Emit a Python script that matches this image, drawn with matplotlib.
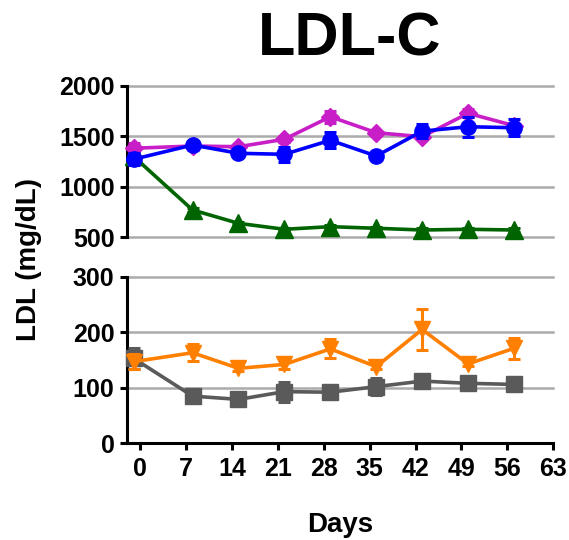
import numpy as np
import matplotlib
matplotlib.use("Agg")
import matplotlib.pyplot as plt

plt.rcParams['font.family'] = ['Liberation Sans', 'DejaVu Sans']
plt.rcParams['font.weight'] = 'bold'

days = [-1, 8, 15, 22, 29, 36, 43, 50, 57]
xticks = [0, 7, 14, 21, 28, 35, 42, 49, 56, 63]

# upper panel groups (high LDL)
magenta = [1381, 1403, 1396, 1470, 1693, 1535, 1495, 1727, 1605]
magenta_err = [50, 35, 20, 25, 60, 20, 25, 40, 20]
blue = [1272, 1413, 1331, 1321, 1460, 1304, 1550, 1594, 1584]
blue_err = [60, 30, 30, 75, 80, 25, 70, 100, 85]
green = [1300, 770, 638, 579, 605, 589, 572, 579, 572]
green_err = [20, 20, 15, 15, 15, 15, 15, 15, 15]

# lower panel groups (low LDL)
orange = [147, 163, 135, 142, 170, 138, 205, 143, 171]
orange_err = [14, 15, 4, 8, 17, 4, 37, 4, 19]
gray = [153, 85, 79, 93, 92, 102, 112, 108, 106]
gray_err = [19, 4, 5, 18, 4, 15, 6, 4, 4]

fig = plt.figure(figsize=(5.69, 5.40), dpi=100)
left, width = 0.2232, 0.7492
ax_top = fig.add_axes([left, 0.5606, width, 0.2807])
ax_bot = fig.add_axes([left, 0.1791, width, 0.3085])

grid_c = '#ababab'


def style(ax, yticks):
    ax.set_xlim(-2, 63)
    ax.set_yticks(yticks)
    for y in yticks:
        ax.axhline(y, color=grid_c, lw=1.8, zorder=0, clip_on=False)
    for s in ['top', 'right']:
        ax.spines[s].set_visible(False)
    ax.spines['left'].set_linewidth(2.2)
    ax.spines['bottom'].set_linewidth(2.2)
    ax.tick_params(axis='both', width=2.2, length=5, labelsize=18, pad=4)


def series(ax, y, err, color, marker, ms, z):
    ax.errorbar(days, y, yerr=err, color=color, marker=marker, ms=ms,
                lw=2.6, elinewidth=2.2, capsize=4.5, capthick=2.2, zorder=z,
                clip_on=False)


style(ax_top, [500, 1000, 1500, 2000])
ax_top.set_ylim(500, 2000)
ax_top.spines['bottom'].set_visible(False)
ax_top.set_xticks([])
series(ax_top, green, green_err, '#006400', '^', 13, 3)
series(ax_top, magenta, magenta_err, '#c81ec8', 'D', 9, 4)
series(ax_top, blue, blue_err, '#0000ff', 'o', 11, 5)

style(ax_bot, [0, 100, 200, 300])
ax_bot.set_ylim(0, 300)
ax_bot.set_xticks(xticks)
ax_bot.tick_params(axis='x', pad=5)
series(ax_bot, gray, gray_err, '#5a5a5a', 's', 11, 3)
series(ax_bot, orange, orange_err, '#ff7f00', 'v', 11, 4)

fig.text(350 / 569, 1 - 55 / 540, 'LDL-C', fontsize=44, fontweight='bold',
         ha='center', va='baseline')
fig.text(29 / 569, 0.5194, 'LDL (mg/dL)', fontsize=20, fontweight='bold',
         rotation=90, ha='center', va='center')
fig.text(340 / 569, 1 - 525 / 540, 'Days', fontsize=20, fontweight='bold',
         ha='center', va='center')

fig.savefig('out.png', dpi=100)
